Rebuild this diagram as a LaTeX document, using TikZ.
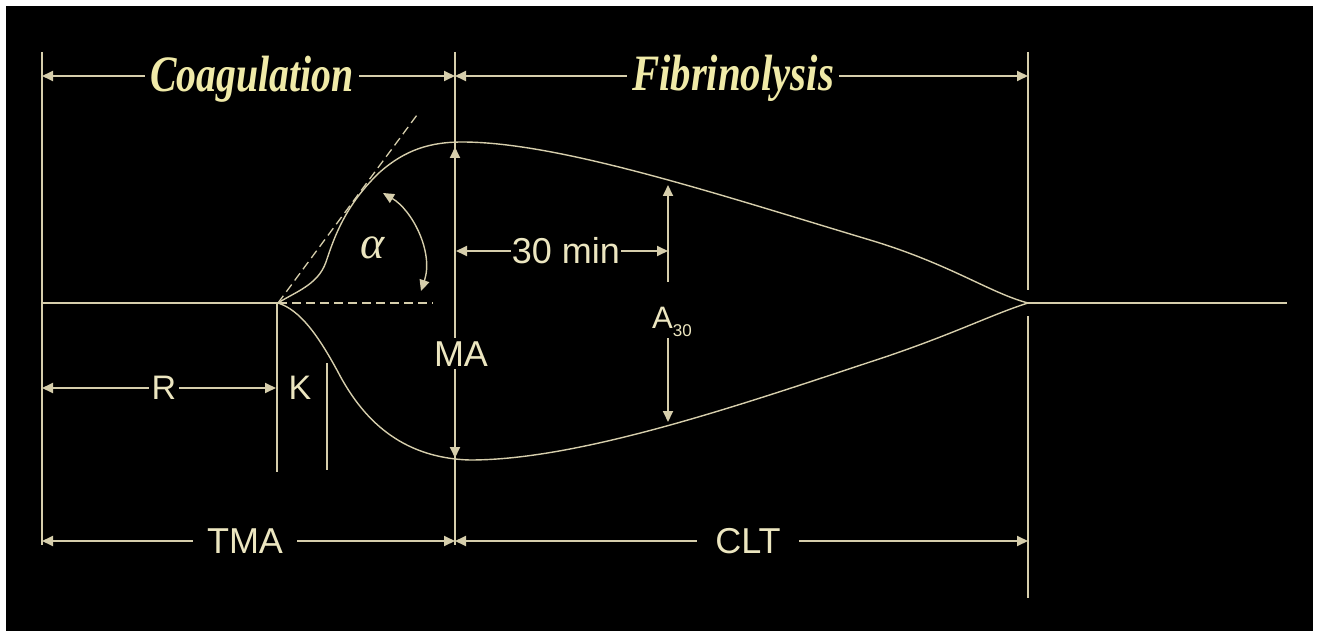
\documentclass[tikz,border=0pt]{standalone}
\usepackage{fontspec}
\setmainfont{Liberation Sans}
\newfontfamily\titlefont{Liberation Serif}
\usetikzlibrary{arrows.meta}
\definecolor{lncol}{RGB}{214,206,172}
\definecolor{txcol}{RGB}{236,230,192}
\definecolor{ttcol}{RGB}{240,234,168}
\begin{document}
\begin{tikzpicture}[x=1pt,y=-1pt,
  lin/.style={draw=lncol, line width=1.8pt},
  thin/.style={draw=lncol, line width=1.4pt},
  dsh/.style={draw=lncol, line width=1.3pt, dash pattern=on 9pt off 5pt},
  tip/.style={-{Triangle[length=11pt,width=10pt]}},
  dim/.style={lin, {Triangle[length=11pt,width=10pt]}-{Triangle[length=11pt,width=10pt]}},
  lbl/.style={fill=black, text=txcol, inner xsep=3pt, inner ysep=1pt, anchor=base, font=\fontsize{36}{36}\selectfont},
  ttl/.style={fill=black, text=ttcol, inner xsep=5pt, inner ysep=1pt, anchor=base, font=\titlefont\bfseries\itshape\fontsize{51}{51}\selectfont}]
\fill[white] (0,0) rectangle (1319,631);
\fill[black] (6,6) rectangle (1313,631);
\useasboundingbox (0,0) rectangle (1319,631);

% coordinates
\coordinate (L0) at (42,52);   \coordinate (L1) at (42,545);
\coordinate (M0) at (455,52);  \coordinate (M1) at (455,545);
\coordinate (C0) at (1028,52); \coordinate (C1) at (1028,290);
\coordinate (C2) at (1028,316);\coordinate (C3) at (1028,598);
\coordinate (O) at (278,303);  \coordinate (E) at (1028,303);
\coordinate (B0) at (42,303);  \coordinate (B1) at (1287,303);
\coordinate (K0) at (277,303); \coordinate (K1) at (277,472);
\coordinate (K2) at (327,363); \coordinate (K3) at (327,470);
\coordinate (TT) at (417,115); \coordinate (HD) at (433,303);

% frame lines
\draw[lin] (L0) -- (L1);
\draw[lin] (M0) -- (M1);
\draw[lin] (C0) -- (C1);
\draw[lin] (C2) -- (C3);
\draw[lin] (B0) -- (O);
\draw[lin] (E) -- (B1);
\draw[lin] (K0) -- (K1);
\draw[lin] (K2) -- (K3);

% curves
\draw[thin] (O) .. controls (295,292) and (318,285) .. (326,262)
  .. controls (334,238) and (345,205) .. (380,172)
  .. controls (405,150) and (430,142) .. (462,142)
  .. controls (560,142) and (720,195) .. (870,240)
  .. controls (950,264) and (990,293) .. (E);
\draw[thin] (O) .. controls (300,310) and (318,335) .. (338,372)
  .. controls (362,418) and (400,458) .. (470,460)
  .. controls (580,460) and (740,405) .. (870,362)
  .. controls (950,336) and (990,315) .. (E);

% tangent and horizontal dashed
\draw[dsh] (O) -- (TT);
\draw[dsh] (O) -- (HD);

% alpha arc
\coordinate (a1) at (383,193); \coordinate (a2) at (421,291);
\draw[dim, line width=1.4pt] (a1) .. controls (412,210) and (434,252) .. (a2);
\node[text=txcol, font=\titlefont\itshape\fontsize{46}{46}\selectfont] (alpha) at (373,248) {α};

% dimension arrows
\coordinate (cg1) at (42,76);  \coordinate (cg2) at (455,76);
\coordinate (fb1) at (455,76); \coordinate (fb2) at (1028,76);
\draw[dim] (cg1) -- (cg2);
\draw[dim] (fb1) -- (fb2);
\node[ttl] (coag) at (252,92) {\scalebox{0.78}[1]{Coagulation}};
\node[ttl] (fibr) at (733,91) {\scalebox{0.8}[1]{Fibrinolysis}};

\coordinate (ma1) at (455,147); \coordinate (ma2) at (455,458);
\draw[dim] (ma1) -- (ma2);
\node[lbl, inner ysep=3pt] (ma) at (461,366) {MA};

\coordinate (t1) at (456,251); \coordinate (t2) at (668,251);
\draw[dim] (t1) -- (t2);
\node[lbl, inner xsep=1pt] (tmin) at (566,263) {30 min};

\coordinate (a30t) at (668,185); \coordinate (a30u) at (668,282);
\coordinate (a30l) at (668,338); \coordinate (a30b) at (668,422);
\draw[lin, {Triangle[length=11pt,width=10pt]}-] (a30t) -- (a30u);
\draw[lin, tip] (a30l) -- (a30b);
\node[text=txcol, anchor=base west, inner sep=0pt, font=\fontsize{31}{31}\selectfont] (a30) at (652,328) {A\raisebox{-8pt}{\fontsize{17}{17}\selectfont 30}};

\coordinate (r1) at (42,388); \coordinate (r2) at (276,388);
\draw[dim] (r1) -- (r2);
\node[lbl, font=\fontsize{34}{34}\selectfont] (R) at (164,399) {R};
\node[lbl, font=\fontsize{34}{34}\selectfont] (K) at (300,399) {K};

\coordinate (tm1) at (42,541); \coordinate (tm2) at (455,541);
\coordinate (cl1) at (455,541); \coordinate (cl2) at (1028,541);
\draw[dim] (tm1) -- (tm2);
\draw[dim] (cl1) -- (cl2);
\node[lbl, inner xsep=14pt] (tma) at (245,553) {TMA};
\node[lbl, inner xsep=18pt] (clt) at (748,553) {CLT};
\end{tikzpicture}
\end{document}
